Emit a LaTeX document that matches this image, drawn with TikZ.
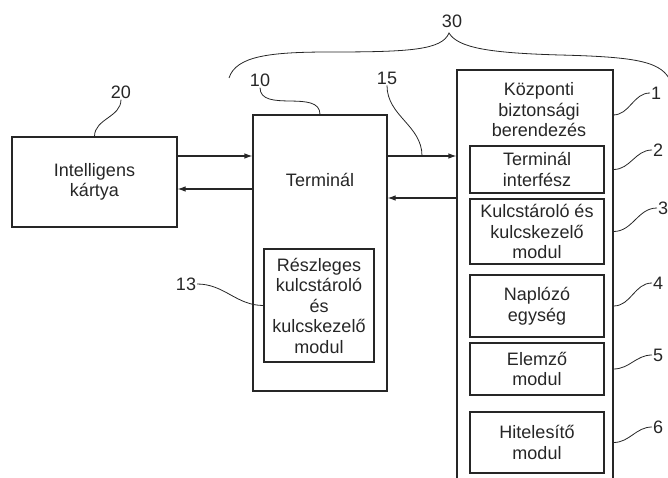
\documentclass[tikz,border=0pt]{standalone}
\usepackage{fontspec}
\setmainfont{Liberation Sans}
\usetikzlibrary{arrows.meta}
\definecolor{Ink}{HTML}{262626}

\begin{document}
\begin{tikzpicture}[x=1pt,y=-1pt,
    box/.style={draw=Ink,line width=1.1pt,inner sep=0pt,align=center,text=Ink,font=\fontsize{18}{20.5}\selectfont},
    txt/.style={inner sep=0pt,align=center,text=Ink,font=\fontsize{18}{20.5}\selectfont},
    num/.style={inner sep=1pt,text=Ink,font=\fontsize{18}{20}\selectfont},
    lead/.style={draw=Ink,line width=0.8pt},
    arr/.style={draw=Ink,line width=1.1pt,-{Latex[length=8pt,width=5.5pt]}}]
    \useasboundingbox (0,0) rectangle (668,478);
    % boxes
    \node[box,minimum width=165,minimum height=90] (card) at (94.5,182) {Intelligens\\kártya};
    \node[box,minimum width=134,minimum height=276] (term) at (320,253) {};
    \node[txt] (termtxt) at (320,180) {Terminál};
    \node[box,minimum width=110,minimum height=113] (part) at (319,305.5) {Részleges\\kulcstároló\\és\\kulcskezelő\\modul};
    \node[box,minimum width=156,minimum height=430] (central) at (535,285) {};
    \node[txt] (centraltxt) at (539,110) {Központi\\biztonsági\\berendezés};
    \node[box,minimum width=134,minimum height=47] (tif) at (537,169.5) {Terminál\\interfész};
    \node[box,minimum width=134,minimum height=65] (kul) at (537,231.5) {Kulcstároló és\\kulcskezelő\\modul};
    \node[box,minimum width=134,minimum height=62] (nap) at (537,306) {Naplózó\\egység};
    \node[box,minimum width=134,minimum height=52] (elm) at (537,369) {Elemző\\modul};
    \node[box,minimum width=134,minimum height=61] (hit) at (537,442.5) {Hitelesítő\\modul};
    % arrows
    \draw[arr] (card.east |- 0,156) -- (term.west |- 0,156);
    \draw[arr] (term.west |- 0,189) -- (card.east |- 0,189);
    \draw[arr] (term.east |- 0,156) -- (central.west |- 0,156);
    \draw[arr] (central.west |- 0,198) -- (term.east |- 0,198);
    % reference numbers
    \node[num] (n30) at (452,21) {30};
    \node[num] (n20) at (121,92) {20};
    \node[num] (n10) at (260,80) {10};
    \node[num] (n15) at (387,78) {15};
    \node[num] (n13) at (186,284) {13};
    \node[num,anchor=west] (n1) at (650,93) {1};
    \node[num,anchor=west] (n2) at (652,150) {2};
    \node[num,anchor=west] (n3) at (657,208) {3};
    \node[num,anchor=west] (n4) at (652,283) {4};
    \node[num,anchor=west] (n5) at (652,355) {5};
    \node[num,anchor=west] (n6) at (652,427) {6};
    \coordinate (j15) at (422,156);
    \coordinate (j1) at (613,115);
    % leaders
    \draw[lead] (card.north) to[out=90,in=-90] (n20.south);
    \draw[lead] (n10.south) to[out=-90,in=90] (term.north);
    \draw[lead] (n15.south) to[out=-90,in=90] (j15);
    \draw[lead] (n13.east) to[out=0,in=180] (part.west);
    \draw[lead] (j1) to[out=0,in=180] (n1.west);
    \draw[lead] (central.east |- tif.east) to[out=0,in=180] (n2.west);
    \draw[lead] (central.east |- kul.east) to[out=0,in=180] (n3.west);
    \draw[lead] (central.east |- nap.east) to[out=0,in=180] (n4.west);
    \draw[lead] (central.east |- elm.east) to[out=0,in=180] (n5.west);
    \draw[lead] (central.east |- hit.east) to[out=0,in=180] (n6.west);
    % brace 30
    \draw[lead] (229,78) .. controls (236,56) and (270,52) .. (330,52)
        .. controls (410,52) and (442,50) .. (449,33)
        .. controls (458,48) and (490,53) .. (560,55)
        .. controls (640,57) and (662,62) .. (671,82);
\end{tikzpicture}
\end{document}
